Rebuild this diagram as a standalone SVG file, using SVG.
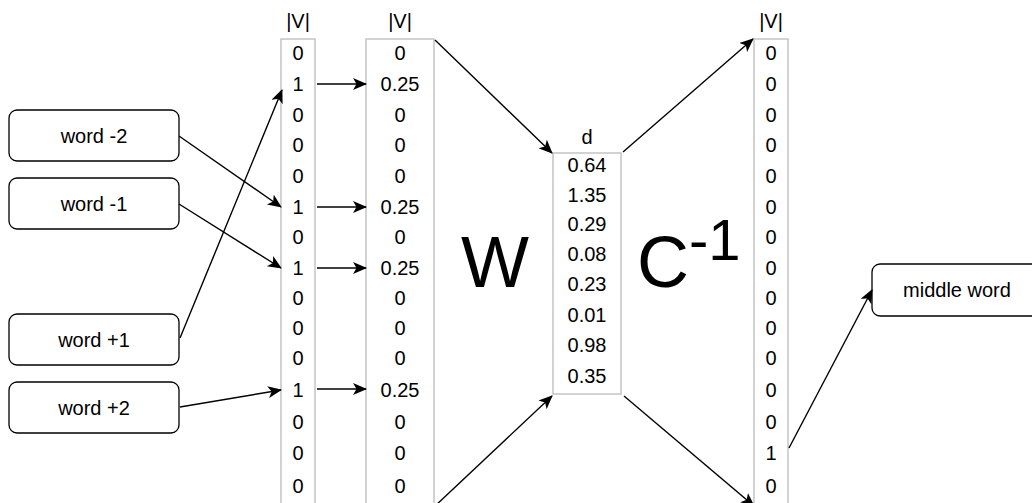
<svg xmlns="http://www.w3.org/2000/svg" width="1032" height="503" viewBox="0 0 1032 503">
  <style>
    text { font-family: "Liberation Sans", Arial, Helvetica, sans-serif; fill: #000; }
    .t { font-size: 20px; text-anchor: middle; }
    .col { fill: #fff; stroke: #c4c4c4; stroke-width: 1.5; }
    .box { fill: #fff; stroke: #000; stroke-width: 1.3; }
    .big { font-size: 72px; text-anchor: middle; }
    .edge { fill: none; stroke: #000; stroke-width: 1.4; marker-end: url(#arrow); }
  </style>
  <defs>
    <marker id="arrow" markerUnits="userSpaceOnUse" markerWidth="16" markerHeight="14" refX="13" refY="6" orient="auto" viewBox="0 0 16 14">
      <path d="M0,0 L14,6 L0,12 L3.5,6 Z" fill="#000"/>
    </marker>
  </defs>

  <!-- context word inputs -->
  <g id="word-m2"><rect class="box" x="9" y="110" width="170" height="51" rx="8"/><text class="t" x="94" y="143">word -2</text></g>
  <g id="word-m1"><rect class="box" x="9" y="178" width="170" height="51" rx="8"/><text class="t" x="94" y="211">word -1</text></g>
  <g id="word-p1"><rect class="box" x="9" y="314" width="170" height="51" rx="8"/><text class="t" x="94" y="347">word +1</text></g>
  <g id="word-p2"><rect class="box" x="9" y="382" width="170" height="51" rx="8"/><text class="t" x="94" y="415">word +2</text></g>

  <!-- one-hot input vector -->
  <g id="onehot">
    <text class="t" x="298" y="28">|V|</text>
    <rect class="col" x="281" y="39" width="34" height="490"/>
    <text class="t" x="298" y="60">0</text>
    <text class="t" x="298" y="91">1</text>
    <text class="t" x="298" y="122">0</text>
    <text class="t" x="298" y="152">0</text>
    <text class="t" x="298" y="183">0</text>
    <text class="t" x="298" y="214">1</text>
    <text class="t" x="298" y="244">0</text>
    <text class="t" x="298" y="275">1</text>
    <text class="t" x="298" y="305">0</text>
    <text class="t" x="298" y="335">0</text>
    <text class="t" x="298" y="365">0</text>
    <text class="t" x="298" y="397">1</text>
    <text class="t" x="298" y="429">0</text>
    <text class="t" x="298" y="460">0</text>
    <text class="t" x="298" y="493">0</text>
  </g>

  <!-- averaged input vector -->
  <g id="averaged">
    <text class="t" x="400" y="28">|V|</text>
    <rect class="col" x="366" y="39" width="68" height="490"/>
    <text class="t" x="400" y="60">0</text>
    <text class="t" x="400" y="91">0.25</text>
    <text class="t" x="400" y="122">0</text>
    <text class="t" x="400" y="152">0</text>
    <text class="t" x="400" y="183">0</text>
    <text class="t" x="400" y="214">0.25</text>
    <text class="t" x="400" y="244">0</text>
    <text class="t" x="400" y="275">0.25</text>
    <text class="t" x="400" y="305">0</text>
    <text class="t" x="400" y="335">0</text>
    <text class="t" x="400" y="365">0</text>
    <text class="t" x="400" y="397">0.25</text>
    <text class="t" x="400" y="429">0</text>
    <text class="t" x="400" y="460">0</text>
    <text class="t" x="400" y="493">0</text>
  </g>

  <!-- hidden layer -->
  <g id="hidden">
    <text class="t" x="587" y="144">d</text>
    <rect class="col" x="553" y="153" width="68" height="241"/>
    <text class="t" x="587" y="172">0.64</text>
    <text class="t" x="587" y="202">1.35</text>
    <text class="t" x="587" y="231">0.29</text>
    <text class="t" x="587" y="261">0.08</text>
    <text class="t" x="587" y="291">0.23</text>
    <text class="t" x="587" y="322">0.01</text>
    <text class="t" x="587" y="352">0.98</text>
    <text class="t" x="587" y="383">0.35</text>
  </g>

  <!-- output vector -->
  <g id="output">
    <text class="t" x="771" y="28">|V|</text>
    <rect class="col" x="754" y="39" width="34" height="490"/>
    <text class="t" x="771" y="60">0</text>
    <text class="t" x="771" y="91">0</text>
    <text class="t" x="771" y="122">0</text>
    <text class="t" x="771" y="152">0</text>
    <text class="t" x="771" y="183">0</text>
    <text class="t" x="771" y="214">0</text>
    <text class="t" x="771" y="244">0</text>
    <text class="t" x="771" y="275">0</text>
    <text class="t" x="771" y="305">0</text>
    <text class="t" x="771" y="335">0</text>
    <text class="t" x="771" y="365">0</text>
    <text class="t" x="771" y="397">0</text>
    <text class="t" x="771" y="429">0</text>
    <text class="t" x="771" y="460">1</text>
    <text class="t" x="771" y="493">0</text>
  </g>

  <!-- weight matrix labels -->
  <g id="matrix-w"><text class="big" x="495" y="287">W</text></g>
  <g id="matrix-c"><text class="big" x="663" y="287">C</text><text x="689" y="260" style="font-size:58px">-1</text></g>

  <!-- predicted word -->
  <g id="middle-word"><rect class="box" x="872" y="264" width="172" height="52" rx="8"/><text class="t" x="957" y="297">middle word</text></g>

  <!-- connectors -->
  <g id="connectors">
    <line class="edge" x1="179" y1="136" x2="281" y2="207"/>
    <line class="edge" x1="179" y1="204" x2="281" y2="268"/>
    <line class="edge" x1="180" y1="338" x2="282" y2="90"/>
    <line class="edge" x1="180" y1="407" x2="281" y2="390"/>
    <line class="edge" x1="317" y1="84" x2="366" y2="84"/>
    <line class="edge" x1="317" y1="207" x2="366" y2="207"/>
    <line class="edge" x1="317" y1="268" x2="366" y2="268"/>
    <line class="edge" x1="317" y1="389" x2="366" y2="389"/>
    <line class="edge" x1="435" y1="40" x2="552" y2="153"/>
    <line class="edge" x1="434" y1="507" x2="552" y2="396"/>
    <line class="edge" x1="623" y1="152" x2="753" y2="39"/>
    <line class="edge" x1="624" y1="396" x2="754" y2="506"/>
    <line class="edge" x1="789" y1="448" x2="872" y2="290"/>
  </g>
</svg>
